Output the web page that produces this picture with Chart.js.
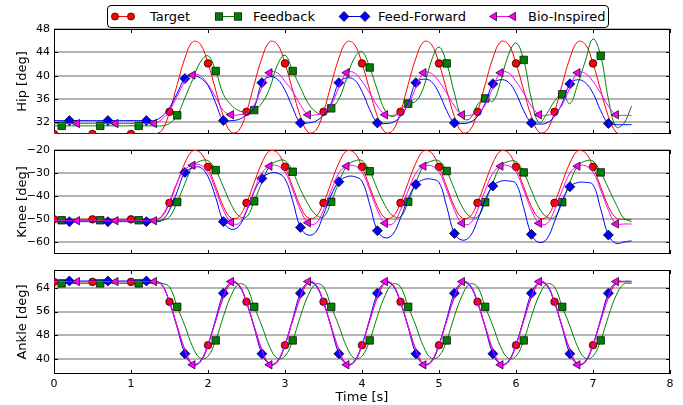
<!DOCTYPE html>
<html lang="en">
<head>
<meta charset="UTF-8">
<title>Hip, Knee and Ankle tracking</title>
<script src="https://cdn.jsdelivr.net/npm/chart.js"></script>
<style>
  body { margin: 0; background: #fff; font-family: 'DejaVu Sans', sans-serif; }
  #wrap { position: relative; width: 683px; height: 405px; overflow: hidden; }
  #wrap canvas { position: absolute; left: 0; }
  #legend { position: absolute; left: 107px; top: 5px; width: 500px; height: 21px;
            border: 1px solid #000; border-radius: 4px; background: #fff; z-index: 2; }
  #legend span { position: absolute; top: 2px; font-size: 13px; line-height: 17px; color: #000; white-space: nowrap; }
  #legend svg { position: absolute; left: 0; top: 0; }
</style>
</head>
<body>
<div id="wrap">
  <div id="legend">
    <svg width="500" height="21">
      <line x1="7" y1="10.5" x2="23" y2="10.5" stroke="#ff0000" stroke-width="1"/>
      <circle cx="7" cy="10.5" r="3.6" fill="#ff0000" stroke="#000" stroke-width="0.7"/>
      <circle cx="23" cy="10.5" r="3.6" fill="#ff0000" stroke="#000" stroke-width="0.7"/>
      <line x1="111" y1="10.5" x2="130" y2="10.5" stroke="#008000" stroke-width="1"/>
      <rect x="107.3" y="6.8" width="7.4" height="7.4" fill="#008000" stroke="#000" stroke-width="0.7"/>
      <rect x="126.3" y="6.8" width="7.4" height="7.4" fill="#008000" stroke="#000" stroke-width="0.7"/>
      <line x1="236" y1="10.5" x2="257" y2="10.5" stroke="#0000ff" stroke-width="1"/>
      <polygon points="231,10.5 236,5.5 241,10.5 236,15.5" fill="#0000ff" stroke="#000" stroke-width="0.7"/>
      <polygon points="252,10.5 257,5.5 262,10.5 257,15.5" fill="#0000ff" stroke="#000" stroke-width="0.7"/>
      <line x1="386" y1="10.5" x2="405" y2="10.5" stroke="#ff00ff" stroke-width="1"/>
      <polygon points="381.5,10.5 388.5,6.3 388.5,14.7" fill="#ff00ff" stroke="#000" stroke-width="0.7"/>
      <polygon points="400.5,10.5 407.5,6.3 407.5,14.7" fill="#ff00ff" stroke="#000" stroke-width="0.7"/>
    </svg>
    <span style="left:42px">Target</span>
    <span style="left:145px">Feedback</span>
    <span style="left:270px">Feed-Forward</span>
    <span style="left:420px">Bio-Inspired</span>
  </div>
  <canvas id="hipChart" width="683" height="115" style="top:24px"></canvas>
  <canvas id="kneeChart" width="683" height="114" style="top:145px"></canvas>
  <canvas id="ankleChart" width="683" height="140" style="top:265px"></canvas>
</div>

<script>
// time base [s]
const time = [
  0, 0.1, 0.2, 0.3, 0.4, 0.5, 0.6, 0.7, 0.8, 0.9,
  1, 1.1, 1.2, 1.3, 1.4, 1.5, 1.6, 1.7, 1.8, 1.9,
  2, 2.1, 2.2, 2.3, 2.4, 2.5, 2.6, 2.7, 2.8, 2.9,
  3, 3.1, 3.2, 3.3, 3.4, 3.5, 3.6, 3.7, 3.8, 3.9,
  4, 4.1, 4.2, 4.3, 4.4, 4.5, 4.6, 4.7, 4.8, 4.9,
  5, 5.1, 5.2, 5.3, 5.4, 5.5, 5.6, 5.7, 5.8, 5.9,
  6, 6.1, 6.2, 6.3, 6.4, 6.5, 6.6, 6.7, 6.8, 6.9,
  7, 7.1, 7.2, 7.3, 7.4, 7.5
];

// Hip [deg]
const hipTarget = [
  30, 30, 30, 30, 30, 30, 30, 30, 30, 30,
  30, 30, 30, 30, 30.6, 33.8, 38.5, 43.0, 45.8, 45.4,
  42.1, 37.5, 33.0, 30.3, 30.6, 33.8, 38.5, 43.0, 45.8, 45.4,
  42.1, 37.5, 33.0, 30.3, 30.6, 33.8, 38.5, 43.0, 45.8, 45.4,
  42.1, 37.5, 33.0, 30.3, 30.6, 33.8, 38.5, 43.0, 45.8, 45.4,
  42.1, 37.5, 33.0, 30.3, 30.6, 33.8, 38.5, 43.0, 45.8, 45.4,
  42.1, 37.5, 33.0, 30.3, 30.6, 33.8, 38.5, 43.0, 45.8, 45.4,
  42.1, 37.5, 33.0, 30.3, 30, 30
];
const hipFeedback = [
  31.4, 31.4, 31.4, 31.4, 31.4, 31.4, 31.4, 31.4, 31.4, 31.4,
  31.4, 31.4, 31.4, 31.4, 31.4, 31.8, 33.2, 36.2, 39.3, 42.3,
  43.4, 40.8, 36.8, 35.0, 34.0, 33.8, 34.1, 35.3, 37.8, 41.8,
  43.5, 40.8, 38.0, 35.3, 33.8, 33.4, 34.4, 36.0, 39.5, 43.0,
  44.1, 41.4, 37.5, 34.0, 33.0, 34.2, 35.2, 35.6, 38.0, 42.5,
  44.9, 42.1, 37.0, 32.8, 32.6, 35.0, 36.1, 35.6, 39.0, 43.5,
  45.6, 42.7, 36.0, 31.9, 33.5, 35.6, 36.8, 35.2, 38.5, 42.5,
  46.3, 43.4, 36.0, 31.2, 31.8, 34.8
];
const hipFeedForward = [
  32.3, 32.3, 32.3, 32.3, 32.3, 32.3, 32.3, 32.3, 32.3, 32.3,
  32.3, 32.3, 32.3, 32.3, 33.0, 34.5, 37.0, 39.5, 40.0, 39.6,
  38.3, 35.3, 32.3, 32.3, 32.5, 33.3, 34.5, 38.8, 39.8, 39.4,
  37.5, 34.5, 31.9, 31.9, 32.2, 33.3, 35.3, 38.8, 39.6, 39.3,
  37.3, 34.2, 31.9, 31.8, 32.0, 33.0, 35.3, 38.8, 39.4, 39.0,
  37.0, 34.0, 31.9, 31.8, 32.0, 33.0, 35.3, 38.6, 39.3, 38.9,
  37.0, 34.0, 31.9, 31.7, 31.9, 33.0, 35.3, 38.6, 39.3, 38.8,
  37.0, 34.0, 31.8, 31.6, 31.6, 31.6
];
const hipBioInspired = [
  31.8, 31.8, 31.8, 31.8, 31.8, 31.8, 31.8, 31.8, 31.8, 31.8,
  31.8, 31.8, 31.8, 31.8, 32.5, 34.0, 36.5, 39.0, 40.1, 40.0,
  38.5, 36.3, 34.0, 33.3, 33.3, 33.6, 35.0, 38.0, 40.5, 40.5,
  39.0, 37.3, 35.0, 33.3, 33.3, 33.6, 35.0, 38.0, 40.5, 40.5,
  39.0, 37.0, 34.8, 33.3, 33.2, 33.5, 35.0, 38.0, 40.5, 40.4,
  39.0, 37.0, 34.8, 33.3, 33.2, 33.6, 35.0, 38.0, 40.5, 40.5,
  39.0, 37.0, 34.8, 33.3, 33.2, 33.6, 35.0, 38.0, 40.5, 40.4,
  39.0, 37.0, 34.8, 33.3, 33.2, 33.2
];

// Knee [deg]
const kneeTarget = [
  -50, -50, -50, -50, -50, -50, -50, -50, -50, -50,
  -50, -50, -50, -50, -48.9, -42.9, -34.1, -25.6, -20.4, -21.1,
  -27.3, -35.9, -44.4, -49.4, -48.9, -42.9, -34.1, -25.6, -20.4, -21.1,
  -27.3, -35.9, -44.4, -49.4, -48.9, -42.9, -34.1, -25.6, -20.4, -21.1,
  -27.3, -35.9, -44.4, -49.4, -48.9, -42.9, -34.1, -25.6, -20.4, -21.1,
  -27.3, -35.9, -44.4, -49.4, -48.9, -42.9, -34.1, -25.6, -20.4, -21.1,
  -27.3, -35.9, -44.4, -49.4, -48.9, -42.9, -34.1, -25.6, -20.4, -21.1,
  -27.3, -35.9, -44.4, -49.4, -50, -50
];
const kneeFeedback = [
  -50.4, -50.4, -50.4, -50.4, -50.4, -50.4, -50.4, -50.4, -50.4, -50.4,
  -50.4, -50.4, -50.4, -50.4, -50.4, -49.0, -42.5, -34.5, -27.0, -24.8,
  -24.6, -28.7, -36.0, -43.5, -48.5, -49.0, -42.2, -34.0, -27.0, -24.8,
  -24.6, -29.4, -37.0, -43.5, -48.0, -49.0, -42.4, -34.0, -27.0, -24.8,
  -24.6, -29.2, -37.0, -44.0, -48.5, -49.0, -42.4, -34.0, -27.0, -24.8,
  -24.7, -29.1, -37.0, -44.5, -48.8, -49.0, -42.6, -34.0, -27.0, -25.0,
  -25.0, -29.7, -37.5, -45.0, -49.0, -49.2, -42.6, -34.0, -27.0, -24.8,
  -24.8, -29.7, -36.5, -43.5, -49.5, -51.0
];
const kneeFeedForward = [
  -51, -51, -51, -51, -51, -51, -51, -51, -51, -51,
  -51, -51, -51, -51, -50.5, -46.0, -38.0, -29.7, -27.8, -27.5,
  -31.5, -40.5, -51.0, -54.3, -53.0, -46.5, -38.0, -32.3, -30.1, -30.0,
  -32.5, -42.0, -53.5, -56.8, -55.5, -48.0, -39.5, -33.7, -31.6, -31.5,
  -33.5, -43.5, -54.9, -58.0, -56.5, -49.5, -41.0, -34.9, -32.8, -32.6,
  -34.0, -44.5, -56.1, -59.0, -57.5, -50.5, -41.5, -35.6, -33.5, -33.4,
  -34.5, -45.0, -56.5, -60.0, -58.5, -51.0, -42.0, -35.9, -34.1, -34.0,
  -35.0, -45.5, -56.8, -60.4, -59.8, -59.3
];
const kneeBioInspired = [
  -50.6, -50.6, -50.6, -50.6, -50.6, -50.6, -50.6, -50.6, -50.6, -50.6,
  -50.6, -50.6, -50.6, -50.6, -48.5, -42.0, -34.0, -28.5, -26.6, -26.5,
  -29.5, -37.3, -46.0, -51.3, -51.8, -46.0, -37.5, -30.0, -27.0, -26.8,
  -29.5, -37.3, -46.0, -51.5, -51.8, -46.0, -37.5, -30.0, -27.0, -26.8,
  -29.5, -37.3, -46.0, -51.7, -51.9, -46.0, -37.5, -30.0, -27.0, -26.8,
  -29.5, -37.3, -46.0, -51.7, -51.9, -46.0, -37.5, -30.0, -27.0, -26.8,
  -29.5, -37.3, -46.0, -51.7, -51.9, -46.0, -37.5, -30.0, -27.0, -26.8,
  -29.5, -37.3, -46.0, -52.0, -52.0, -52.0
];

// Ankle [deg]
const ankleTarget = [
  66, 66, 66, 66, 66, 66, 66, 66, 66, 66,
  66, 66, 66, 66, 65.0, 59.3, 51.1, 43.3, 38.4, 39.0,
  44.7, 52.9, 60.7, 65.5, 65.0, 59.3, 51.1, 43.3, 38.4, 39.0,
  44.7, 52.9, 60.7, 65.5, 65.0, 59.3, 51.1, 43.3, 38.4, 39.0,
  44.7, 52.9, 60.7, 65.5, 65.0, 59.3, 51.1, 43.3, 38.4, 39.0,
  44.7, 52.9, 60.7, 65.5, 65.0, 59.3, 51.1, 43.3, 38.4, 39.0,
  44.7, 52.9, 60.7, 65.5, 65.0, 59.3, 51.1, 43.3, 38.4, 39.0,
  44.7, 52.9, 60.7, 65.5, 66.0, 66.0
];
const ankleFeedback = [
  65.5, 65.5, 65.5, 65.5, 65.5, 65.5, 65.5, 65.5, 65.5, 65.5,
  65.5, 65.5, 65.5, 65.5, 65.5, 64.3, 57.6, 51.2, 44.2, 40.3,
  41.0, 46.3, 54.4, 61.4, 65.3, 64.3, 57.6, 51.2, 44.2, 40.3,
  41.0, 46.3, 54.4, 61.4, 65.3, 64.3, 57.6, 51.2, 44.2, 40.3,
  41.0, 46.3, 54.4, 61.4, 65.3, 64.3, 57.6, 51.2, 44.2, 40.3,
  41.0, 46.3, 54.4, 61.4, 65.3, 64.3, 57.6, 51.2, 44.2, 40.3,
  41.0, 46.3, 54.4, 61.4, 65.3, 64.3, 57.6, 51.2, 44.2, 40.3,
  41.0, 46.3, 54.4, 61.4, 65.3, 65.5
];
const ankleFeedForward = [
  66.3, 66.3, 66.3, 66.3, 66.3, 66.3, 66.3, 66.3, 66.3, 66.3,
  66.3, 66.3, 66.3, 66.3, 65.2, 59.0, 50.6, 41.8, 38.3, 39.3,
  45.0, 53.5, 62.2, 65.8, 64.8, 59.0, 50.6, 41.8, 38.3, 39.3,
  45.0, 53.5, 62.2, 65.8, 64.8, 59.0, 50.6, 41.8, 38.3, 39.3,
  45.0, 53.5, 62.2, 65.8, 64.8, 59.0, 50.6, 41.8, 38.3, 39.3,
  45.0, 53.5, 62.2, 65.8, 64.8, 59.0, 50.6, 41.8, 38.3, 39.3,
  45.0, 53.5, 62.2, 65.8, 64.8, 59.0, 50.6, 41.8, 38.3, 39.3,
  45.0, 53.5, 62.2, 65.8, 66.2, 66.2
];
const ankleBioInspired = [
  66.1, 66.1, 66.1, 66.1, 66.1, 66.1, 66.1, 66.1, 66.1, 66.1,
  66.1, 66.1, 66.1, 66.1, 65.0, 59.2, 50.9, 43.0, 38.1, 39.0,
  44.8, 53.0, 61.0, 66.1, 65.2, 59.2, 50.9, 43.0, 38.1, 39.0,
  44.8, 53.0, 61.0, 66.1, 65.2, 59.2, 50.9, 43.0, 38.1, 39.0,
  44.8, 53.0, 61.0, 66.1, 65.2, 59.2, 50.9, 43.0, 38.1, 39.0,
  44.8, 53.0, 61.0, 66.1, 65.2, 59.2, 50.9, 43.0, 38.1, 39.0,
  44.8, 53.0, 61.0, 66.1, 65.2, 59.2, 50.9, 43.0, 38.1, 39.0,
  44.8, 53.0, 61.0, 66.1, 66.1, 66.1
];

// tick labels
const xTickValues = [0, 1, 2, 3, 4, 5, 6, 7, 8];
const hipTicks = [32, 36, 40, 44, 48];
const kneeTicks = [-60, -50, -40, -30, -20];
const ankleTicks = [40, 48, 56, 64];

const seriesNames = ['Target', 'Feedback', 'Feed-Forward', 'Bio-Inspired'];
const seriesColors = ['#ff0000', '#008000', '#0000ff', '#ff00ff'];
const markerShapes = ['circle', 'rect', 'rectRot', 'triangle'];
const markerSizes = [3.8, 5.3, 5, 4.8];
const markerRotation = [0, 0, 0, -90];

Chart.defaults.font.family = "'DejaVu Sans', sans-serif";
Chart.defaults.color = '#000';

// black box + inward ticks like the original axes
const framePlugin = {
  id: 'frame',
  beforeDatasetsDraw(chart) {
    const { ctx, chartArea: a, scales } = chart;
    ctx.save();
    ctx.strokeStyle = '#000';
    ctx.lineWidth = 1;
    ctx.beginPath();
    xTickValues.forEach(v => {
      const x = Math.round(scales.x.getPixelForValue(v)) + 0.5;
      ctx.moveTo(x, a.top); ctx.lineTo(x, a.top + 4);
      ctx.moveTo(x, a.bottom); ctx.lineTo(x, a.bottom - 4);
    });
    scales.y.ticks.forEach(t => {
      const y = Math.round(scales.y.getPixelForValue(t.value)) + 0.5;
      ctx.moveTo(a.left, y); ctx.lineTo(a.left + 4, y);
      ctx.moveTo(a.right, y); ctx.lineTo(a.right - 4, y);
    });
    ctx.stroke();
    ctx.strokeRect(a.left + 0.5, a.top + 0.5, a.width - 1, a.height - 1);
    ctx.restore();
  }
};

function makeChart(canvasId, seriesList, yMin, yMax, yTicks, yLabel, showX) {
  const datasets = seriesList.map((vals, k) => ({
    label: seriesNames[k],
    data: time.map((t, i) => ({ x: t, y: vals[i] })),
    borderColor: seriesColors[k],
    backgroundColor: seriesColors[k],
    borderWidth: 1,
    tension: 0.4,
    fill: false,
    clip: 0,
    order: 4 - k,
    pointStyle: markerShapes[k],
    pointRotation: markerRotation[k],
    pointBorderColor: '#000',
    pointBorderWidth: 0.7,
    pointBackgroundColor: seriesColors[k],
    pointRadius: ctx => (ctx.dataIndex % 5 === k && ctx.dataIndex <= 73) ? markerSizes[k] : 0,
    pointHoverRadius: 0,
    pointHitRadius: 0
  }));

  return new Chart(document.getElementById(canvasId), {
    type: 'line',
    data: { datasets },
    plugins: [framePlugin],
    options: {
      responsive: false,
      maintainAspectRatio: false,
      devicePixelRatio: 1,
      animation: false,
      events: [],
      layout: { padding: { left: 0, right: 13, top: 5, bottom: showX ? 0 : 5 } },
      plugins: { legend: { display: false }, tooltip: { enabled: false } },
      scales: {
        x: {
          type: 'linear',
          min: 0,
          max: 8,
          display: showX,
          grid: { display: false },
          border: { display: false },
          ticks: { stepSize: 1, padding: -4, font: { size: 11 }, color: '#000' },
          title: { display: showX, text: 'Time [s]', font: { size: 13 }, color: '#000', padding: { top: 0, bottom: 0 } },
          afterFit: s => { s.height = showX ? 31 : 0; s.paddingLeft = 0; s.paddingRight = 0; }
        },
        y: {
          type: 'linear',
          min: yMin,
          max: yMax,
          grid: { color: '#b4b4b4', lineWidth: 2, drawTicks: false },
          border: { display: false },
          ticks: {
            padding: 4,
            font: { size: 11 },
            color: '#000',
            callback: v => String(v).replace('-', '\u2212')
          },
          afterBuildTicks: s => { s.ticks = yTicks.map(v => ({ value: v })); },
          title: { display: true, text: yLabel, font: { size: 13 }, color: '#000', padding: { top: 15, bottom: 0 } },
          afterFit: s => { s.width = 54; s.paddingTop = 0; s.paddingBottom = 0; }
        }
      }
    }
  });
}

makeChart('hipChart', [hipTarget, hipFeedback, hipFeedForward, hipBioInspired], 30, 48, hipTicks, 'Hip [deg]', false);
makeChart('kneeChart', [kneeTarget, kneeFeedback, kneeFeedForward, kneeBioInspired], -65, -20, kneeTicks, 'Knee [deg]', false);
makeChart('ankleChart', [ankleTarget, ankleFeedback, ankleFeedForward, ankleBioInspired], 35, 70, ankleTicks, 'Ankle [deg]', true);
</script>
</body>
</html>
